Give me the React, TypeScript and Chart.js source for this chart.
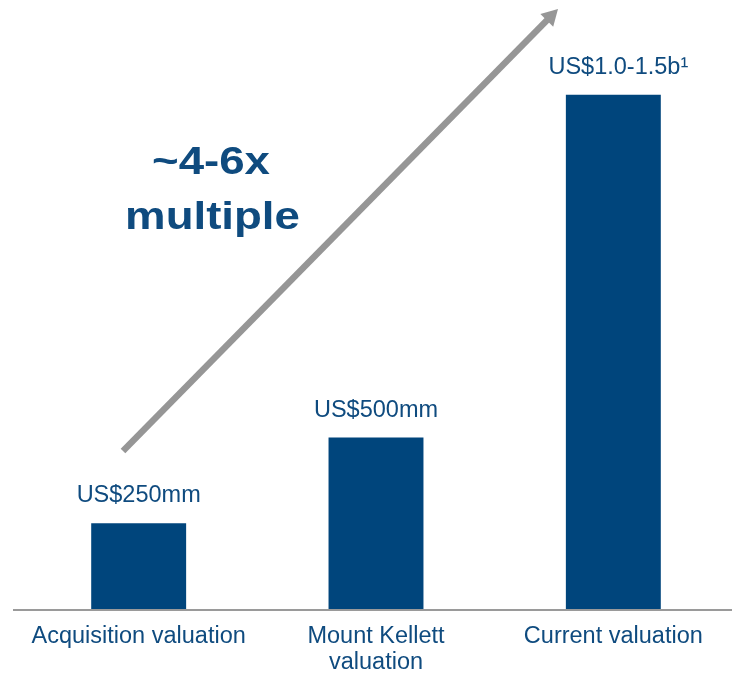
import React, { useEffect, useRef } from "react";
import { Chart, registerables } from "chart.js";

Chart.register(...registerables);

const categories: (string | string[])[] = [
  "Acquisition valuation",
  ["Mount Kellett", "valuation"],
  "Current valuation",
];
const values: number[] = [250, 500, 1500];
const valueLabels: string[] = ["US$250mm", "US$500mm", "US$1.0-1.5b\u00B9"];
const calloutLines: string[] = ["~4-6x", "multiple"];

const BAR_COLOR = "#00457C";
const TEXT_COLOR = "#0F4B7F";
const GRAY = "#969696";
const FONT = "'Liberation Sans', Arial, sans-serif";

const overlayPlugin = {
  id: "overlay",
  beforeDatasetsDraw(chart: any) {
    const { ctx, chartArea } = chart;
    ctx.save();
    // arrow
    const x0 = 123, y0 = 451, x1 = 558, y1 = 9;
    const ang = Math.atan2(y1 - y0, x1 - x0);
    const headLen = 16, headHalf = 9;
    const bx = x1 - headLen * Math.cos(ang);
    const by = y1 - headLen * Math.sin(ang);
    ctx.strokeStyle = GRAY;
    ctx.lineWidth = 6.5;
    ctx.lineCap = "butt";
    ctx.beginPath();
    ctx.moveTo(x0, y0);
    ctx.lineTo(bx + 2 * Math.cos(ang), by + 2 * Math.sin(ang));
    ctx.stroke();
    ctx.fillStyle = GRAY;
    ctx.beginPath();
    ctx.moveTo(x1, y1);
    ctx.lineTo(bx + headHalf * Math.sin(ang), by - headHalf * Math.cos(ang));
    ctx.lineTo(bx - headHalf * Math.sin(ang), by + headHalf * Math.cos(ang));
    ctx.closePath();
    ctx.fill();
    // axis line
    ctx.strokeStyle = "#9A9A9A";
    ctx.lineWidth = 2;
    ctx.beginPath();
    ctx.moveTo(13, chartArea.bottom + 1);
    ctx.lineTo(chart.width, chartArea.bottom + 1);
    ctx.stroke();
    ctx.restore();
  },
  afterDatasetsDraw(chart: any) {
    const { ctx } = chart;
    const meta = chart.getDatasetMeta(0);
    ctx.save();
    ctx.fillStyle = TEXT_COLOR;
    ctx.font = `23.5px ${FONT}`;
    ctx.textAlign = "center";
    ctx.textBaseline = "alphabetic";
    meta.data.forEach((bar: any, i: number) => {
      ctx.fillText(valueLabels[i], bar.x + (i === 2 ? 5 : 0), bar.y - 21);
    });
    // callout text
    ctx.font = `bold 38px ${FONT}`;
    const cx = [211, 212.5];
    const cy = [174, 229];
    calloutLines.forEach((t, i) => {
      ctx.save();
      ctx.translate(cx[i], cy[i]);
      ctx.scale(1.2, 1);
      ctx.fillText(t, 0, 0);
      ctx.restore();
    });
    ctx.restore();
  },
};

export default function App() {
  const ref = useRef<HTMLCanvasElement>(null);
  useEffect(() => {
    if (!ref.current) return;
    const chart = new Chart(ref.current, {
      type: "bar",
      data: {
        labels: categories,
        datasets: [
          {
            data: values,
            backgroundColor: BAR_COLOR,
            barPercentage: 0.4,
            categoryPercentage: 1,
          },
        ],
      },
      options: {
        responsive: false,
        devicePixelRatio: 1,
        animation: false,
        layout: { padding: { top: 9, left: 20, right: 0, bottom: 0 } },
        plugins: {
          legend: { display: false },
          tooltip: { enabled: false },
        },
        scales: {
          x: {
            grid: { display: false, drawTicks: false },
            border: { display: false },
            ticks: {
              color: TEXT_COLOR,
              font: { family: FONT, size: 23.5, lineHeight: 1.1 },
              padding: 15,
              maxRotation: 0,
              autoSkip: false,
            },
            afterFit: (scale: any) => {
              scale.height = 64;
            },
          },
          y: {
            display: false,
            min: 0,
            max: 1750,
          },
        },
      },
      plugins: [overlayPlugin],
    });
    return () => chart.destroy();
  }, []);
  return (
    <canvas
      ref={ref}
      width={732}
      height={673}
      style={{ position: "absolute", left: 0, top: 0 }}
    />
  );
}
